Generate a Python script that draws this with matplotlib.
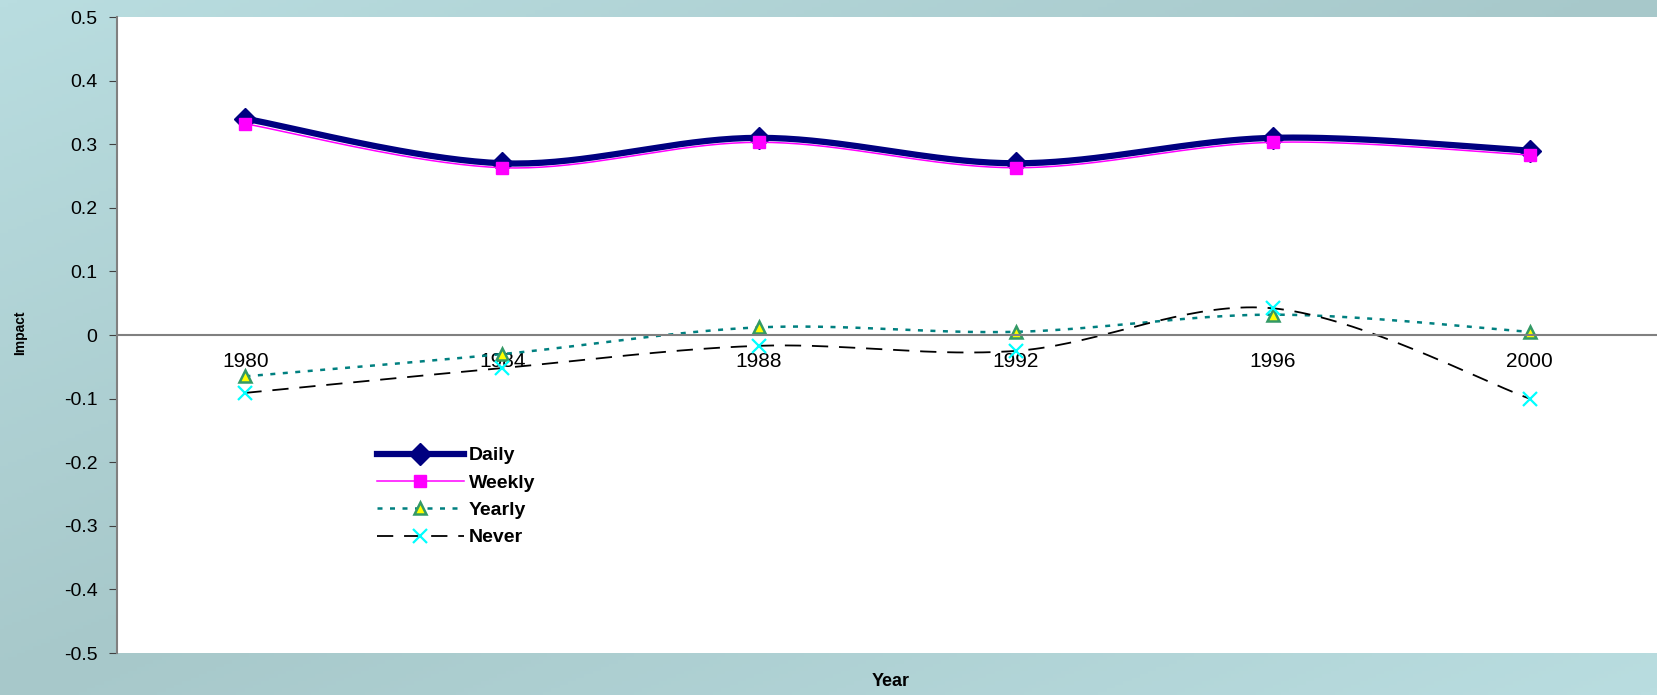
# Impact by year for each frequency group, Excel-style smoothed lines

import numpy as np
import matplotlib.pyplot as plt
from matplotlib.lines import Line2D
from matplotlib.colors import LinearSegmentedColormap

plt.rcParams['font.family'] = ['Liberation Sans', 'DejaVu Sans']

years = ['1980', '1984', '1988', '1992', '1996', '2000']
daily = [0.34, 0.27, 0.31, 0.27, 0.31, 0.29]
weekly = [0.332, 0.263, 0.303, 0.263, 0.303, 0.283]
yearly = [-0.065, -0.03, 0.012, 0.005, 0.032, 0.005]
never = [-0.091, -0.052, -0.017, -0.025, 0.042, -0.1]

yticks = [-0.5, -0.4, -0.3, -0.2, -0.1, 0, 0.1, 0.2, 0.3, 0.4, 0.5]
ytick_labels = ['-0.5', '-0.4', '-0.3', '-0.2', '-0.1', '0', '0.1', '0.2', '0.3', '0.4', '0.5']


def smooth(y, n=40):
    # bezier segments through every point, control points from the neighbours
    pts = np.column_stack([np.arange(len(y)), y]).astype(float)
    padded = np.vstack([pts[0], pts, pts[-1]])
    t = np.linspace(0, 1, n)[:, None]
    out = []
    for i in range(len(pts) - 1):
        p0, p1 = padded[i + 1], padded[i + 2]
        c1 = p0 + (padded[i + 2] - padded[i]) / 6
        c2 = p1 - (padded[i + 3] - padded[i + 1]) / 6
        seg = (1 - t) ** 3 * p0 + 3 * (1 - t) ** 2 * t * c1 + 3 * (1 - t) * t ** 2 * c2 + t ** 3 * p1
        out.append(seg if i == 0 else seg[1:])
    out = np.vstack(out)
    return out[:, 0], out[:, 1]


fig = plt.figure(figsize=(16.58, 6.95), dpi=100)

# teal gradient behind everything
bg = fig.add_axes([0, 0, 1, 1], zorder=-1)
gx, gy = np.meshgrid(np.linspace(0, 1, 400), np.linspace(0, 1, 200))
cmap = LinearSegmentedColormap.from_list('bg', ['#b9dde0', '#a7c8ca', '#b9dde0'])
bg.imshow((gx + gy) / 2, cmap=cmap, aspect='auto', extent=[0, 1, 0, 1], origin='upper')
bg.axis('off')

ax = fig.add_axes([117 / 1658, 42 / 695, 1 - 117 / 1658, 636 / 695])
ax.set_facecolor('white')

x = np.arange(len(years))
series = [
    (daily, dict(color='#000080', lw=4.5), dict(marker='D', ms=11, mfc='#000080', mec='#000080')),
    (weekly, dict(color='#ff00ff', lw=1.1), dict(marker='s', ms=8.5, mfc='#ff00ff', mec='#ff00ff')),
    (yearly, dict(color='#008080', lw=1.8, ls=(0, (2, 3))), dict(marker='^', ms=9, mfc='#ffff00', mec='#339966', mew=1.8)),
    (never, dict(color='black', lw=1.3, ls=(0, (9, 6))), dict(marker='x', ms=10, mec='#00ffff', mew=1.6)),
]
names = ['Daily', 'Weekly', 'Yearly', 'Never']

handles = []
for vals, lstyle, mstyle in series:
    sx, sy = smooth(vals)
    ax.plot(sx, sy, solid_capstyle='round', **lstyle)
    ax.plot(x, vals, ls='none', **mstyle)
    handles.append(Line2D([], [], **lstyle, **mstyle))

ax.set_xlim(-0.5, len(years) - 0.5)
ax.set_ylim(-0.5, 0.5)

ax.spines['top'].set_visible(False)
ax.spines['right'].set_visible(False)
ax.spines['bottom'].set_position(('data', 0))
ax.spines['bottom'].set_color('#808080')
ax.spines['bottom'].set_linewidth(1.5)
ax.spines['left'].set_color('#808080')
ax.spines['left'].set_linewidth(1.5)

ax.set_xticks(x)
ax.set_xticklabels(years)
ax.set_yticks(yticks)
ax.set_yticklabels(ytick_labels)
ax.tick_params(axis='x', length=0, pad=12, labelsize=15)
ax.tick_params(axis='y', direction='out', length=6, color='#404040', pad=8, labelsize=14)

fig.text(20 / 1658, 1 - 333 / 695, 'Impact', rotation=90, fontsize=10, fontweight='bold',
         ha='center', va='center')
fig.text(891 / 1658, 1 - 682 / 695, 'Year', fontsize=13, fontweight='bold', ha='center', va='center')

leg = ax.legend(handles, names, loc='upper left', bbox_to_anchor=(367 / 1658, 1 - 437 / 695),
                bbox_transform=fig.transFigure, frameon=False, handlelength=4.5,
                handletextpad=0.25, labelspacing=0.5, borderpad=0,
                prop={'weight': 'bold', 'size': 14})

fig.savefig('out.png', dpi=100)
